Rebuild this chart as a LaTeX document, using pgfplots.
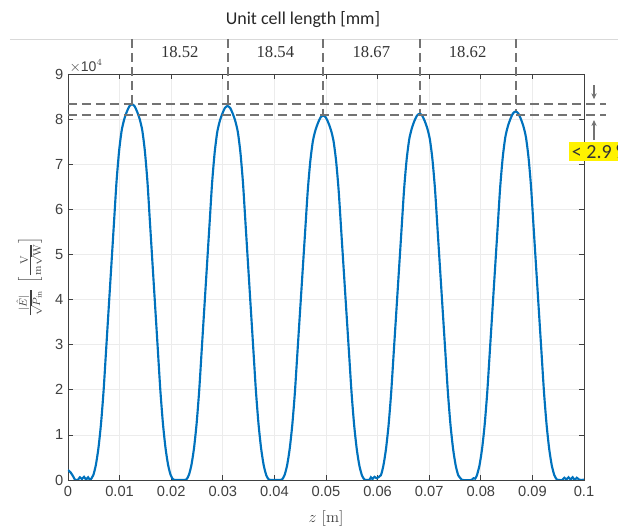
\documentclass[border=0pt]{standalone}
\usepackage{fontspec}
\setsansfont{Liberation Sans}
\newfontfamily\calib{Carlito}
\newfontfamily\numserif{Liberation Serif}
\usepackage{pgfplots}
\pgfplotsset{compat=1.18}
\usetikzlibrary{arrows.meta}

\definecolor{mblue}{rgb}{0,0.447,0.741}
\definecolor{tickgray}{gray}{0.25}
\definecolor{dashgray}{gray}{0.45}

\begin{document}
\begin{tikzpicture}
\begin{axis}[
    scale only axis, width=387pt, height=304.5pt,
    xmin=0, xmax=0.1, ymin=0, ymax=90000,
    xtick={0,0.01,0.02,0.03,0.04,0.05,0.06,0.07,0.08,0.09,0.1},
    xticklabels={0,0.01,0.02,0.03,0.04,0.05,0.06,0.07,0.08,0.09,0.1},
    ytick={0,10000,20000,30000,40000,50000,60000,70000,80000,90000},
    yticklabels={0,1,2,3,4,5,6,7,8,9},
    scaled x ticks=false, scaled y ticks=false,
    grid=major, grid style={gray!15, line width=0.5pt},
    axis line style={tickgray, line width=0.6pt},
    tick style={tickgray, line width=0.5pt},
    tick align=inside, major tick length=4pt,
    ticklabel style={font=\sffamily\fontsize{11}{13}\selectfont, text=tickgray},
    xticklabel style={yshift=-1.5pt},
    /pgf/number format/assume math mode=true,
    xlabel={$z$ [m]},
    xlabel style={at={(axis description cs:0.5,-0.094)}, anchor=center, font=\fontsize{12}{14}\selectfont, text=tickgray},
    ylabel={$\frac{|\hat{E}|}{\sqrt{P_{\mathrm{in}}}}\,\left[\frac{\mathrm{V}}{\mathrm{m}\sqrt{\mathrm{W}}}\right]$},
    ylabel style={at={(axis description cs:-0.075,0.5)}, anchor=center, font=\fontsize{11.5}{13}\selectfont, text=tickgray},
    clip mode=individual,
]
% field magnitude along z
\addplot[mblue, line width=1.6pt, smooth, tension=0.4] coordinates {
(0,2200)(0.0005,1700)(0.001,800)(0.0014,0)(0.0019,0)(0.0023,600)(0.0027,200)(0.0031,700)(0.0035,100)(0.0039,600)(0.0043,0)
(0.0049,1080)(0.0054,3330)(0.0059,7080)(0.0064,12500)(0.0069,19830)(0.0074,29070)(0.0079,38320)(0.0084,47560)(0.0089,56810)(0.0094,66060)(0.0099,72890)(0.0104,77470)(0.0109,79970)(0.0114,81630)(0.0119,82880)(0.0124,83300)
(0.0129,82880)(0.0134,81630)(0.0139,79970)(0.0144,77470)(0.0149,72890)(0.0154,66060)(0.0159,56810)(0.0164,47560)(0.0169,38320)(0.0174,29070)(0.0179,19830)(0.0184,12500)(0.0189,7080)(0.0194,3330)(0.0199,1080)(0.0204,80)
(0.0209,0)(0.0224,0)
(0.02292,80)(0.02342,1080)(0.02392,3320)(0.02442,7050)(0.02492,12440)(0.02542,19730)(0.02592,28930)(0.02642,38130)(0.02692,47340)(0.02742,56540)(0.02792,65740)(0.02842,72540)(0.02892,77100)(0.02942,79580)(0.02992,81240)(0.03042,82490)(0.03092,82900)
(0.03142,82490)(0.03192,81240)(0.03242,79580)(0.03292,77100)(0.03342,72540)(0.03392,65740)(0.03442,56540)(0.03492,47340)(0.03542,38130)(0.03592,28930)(0.03642,19730)(0.03692,12440)(0.03742,7050)(0.03792,3320)(0.03842,1080)(0.03892,80)
(0.0394,0)(0.0410,0)
(0.04146,80)(0.04196,1050)(0.04246,3230)(0.04296,6870)(0.04346,12120)(0.04396,19230)(0.04446,28200)(0.04496,37170)(0.04546,46140)(0.04596,55110)(0.04646,64070)(0.04696,70700)(0.04746,75140)(0.04796,77570)(0.04846,79180)(0.04896,80400)(0.04946,80800)
(0.04996,80400)(0.05046,79180)(0.05096,77570)(0.05146,75140)(0.05196,70700)(0.05246,64070)(0.05296,55110)(0.05346,46140)(0.05396,37170)(0.05446,28200)(0.05496,19230)(0.05546,12120)(0.05596,6870)(0.05646,3230)(0.05696,1050)(0.05746,80)
(0.0579,0)(0.0584,0)(0.0587,600)(0.059,200)(0.0594,700)(0.0598,400)
(0.06063,1060)(0.06113,3250)(0.06163,6900)(0.06213,12180)(0.06263,19330)(0.06313,28340)(0.06363,37350)(0.06413,46370)(0.06463,55380)(0.06513,64390)(0.06563,71050)(0.06613,75520)(0.06663,77950)(0.06713,79580)(0.06763,80790)(0.06813,81200)
(0.06863,80790)(0.06913,79580)(0.06963,77950)(0.07013,75520)(0.07063,71050)(0.07113,64390)(0.07163,55380)(0.07213,46370)(0.07263,37350)(0.07313,28340)(0.07363,19330)(0.07413,12180)(0.07463,6900)(0.07513,3250)(0.07563,1060)(0.07613,300)
(0.0764,0)(0.0782,0)(0.0786,400)(0.0789,300)
(0.07925,1060)(0.07975,3270)(0.08025,6940)(0.08075,12260)(0.08125,19440)(0.08175,28510)(0.08225,37580)(0.08275,46650)(0.08325,55720)(0.08375,64790)(0.08425,71490)(0.08475,75980)(0.08525,78430)(0.08575,80070)(0.08625,81290)(0.08675,81700)
(0.08725,81290)(0.08775,80070)(0.08825,78430)(0.08875,75980)(0.08925,71490)(0.08975,64790)(0.09025,55720)(0.09075,46650)(0.09125,37580)(0.09175,28510)(0.09225,19440)(0.09275,12260)(0.09325,6940)(0.09375,3270)(0.09425,1060)(0.09475,80)
(0.0952,0)(0.0958,0)(0.0962,500)(0.0966,100)(0.097,600)(0.0974,100)(0.0978,600)(0.0982,0)(0.0986,500)(0.099,100)(0.0995,0)(0.1,100)
};

% annotations
\tikzset{dashann/.style={dashgray, line width=1.5pt, dash pattern=on 7pt off 3.5pt}}
\draw[gray!30, line width=0.5pt] (axis cs:-0.01124,97760) -- (axis cs:0.1066,97760);
\draw[dashann] (axis cs:0.0124,97760) -- (axis cs:0.0124,83400);
\draw[dashann] (axis cs:0.03092,97760) -- (axis cs:0.03092,83000);
\draw[dashann] (axis cs:0.04946,97760) -- (axis cs:0.04946,80800);
\draw[dashann] (axis cs:0.06813,97760) -- (axis cs:0.06813,81300);
\draw[dashann] (axis cs:0.08675,97760) -- (axis cs:0.08675,81800);
\draw[dashann] (axis cs:0,83400) -- (axis cs:0.1043,83400);
\draw[dashann] (axis cs:0,80800) -- (axis cs:0.1043,80800);

\node[font=\numserif\fontsize{12.5}{14}\selectfont, text=black!80] at (axis cs:0.02166,94880) {18.52};
\node[font=\numserif\fontsize{12.5}{14}\selectfont, text=black!80] at (axis cs:0.04019,94880) {18.54};
\node[font=\numserif\fontsize{12.5}{14}\selectfont, text=black!80] at (axis cs:0.05880,94880) {18.67};
\node[font=\numserif\fontsize{12.5}{14}\selectfont, text=black!80] at (axis cs:0.07744,94880) {18.62};
\node[font=\calib\fontsize{13.5}{15}\selectfont, text=black!85] at (axis cs:0.04554,101970) {Unit cell length [mm]};

\draw[-{Stealth[length=4.5pt,width=4pt]}, dashgray, line width=0.8pt] (axis cs:0.10194,87560) -- (axis cs:0.10194,84400);
\draw[-{Stealth[length=4.5pt,width=4pt]}, dashgray, line width=0.8pt] (axis cs:0.10194,75400) -- (axis cs:0.10194,79800);
\node[fill=yellow, anchor=west, inner sep=2pt, font=\calib\fontsize{15}{17}\selectfont, text=black!80] at (axis cs:0.09709,72800) {< 2.9 \%};

\node[anchor=south west, inner sep=1pt, font=\sffamily\fontsize{10.5}{12}\selectfont, text=tickgray] at (rel axis cs:0,1) {$\times$10$^{4}$};

\coordinate (bbl) at (axis cs:-0.013178,-11305);
\coordinate (btr) at (axis cs:0.106589,106404);
\end{axis}
\pgfresetboundingbox
\useasboundingbox (bbl) rectangle (btr);
\end{tikzpicture}
\end{document}
